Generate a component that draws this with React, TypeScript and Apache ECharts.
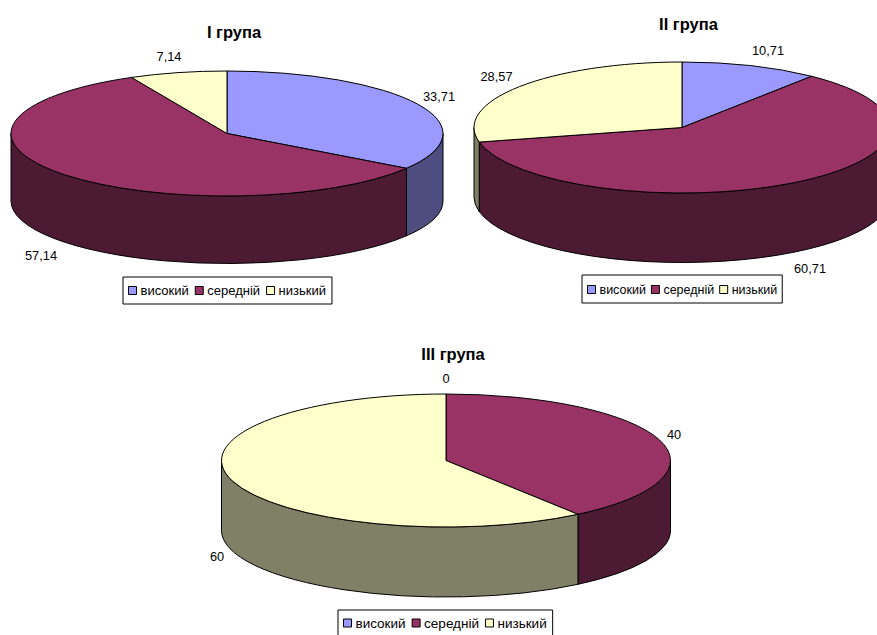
import React, { useEffect, useRef } from "react";
import * as echarts from "echarts";

const categories = ["високий", "середній", "низький"];
const groupTitles = ["I група", "II група", "III група"];
const group1Values = [33.71, 57.14, 7.14];
const group2Values = [10.71, 60.71, 28.57];
const group3Values = [0, 40, 60];
const groupValues = [group1Values, group2Values, group3Values];

const topColors = ["#9999FF", "#993366", "#FFFFCC"];
const wallColors = ["#4D4D80", "#4D1A33", "#808066"];

const FONT = "'Liberation Sans', Arial, sans-serif";

const pies = [
  { cx: 227, cy: 133.5, rx: 216, ry: 62.5, depth: 67.5 },
  { cx: 682, cy: 127.5, rx: 208, ry: 65.5, depth: 69.5 },
  { cx: 446, cy: 460.5, rx: 224.5, ry: 66.5, depth: 70 },
];
const labelAnchors = [
  [[439, 96], [41, 255], [169, 56]],
  [[768, 50], [810, 268], [496.5, 76]],
  [[446, 378], [674, 434], [217, 556]],
];
const titleAnchors = [[234, 32], [688.5, 24], [453, 354]];
const legendBoxes = [
  { left: 123, top: 277, fontSize: 13, gap: 6, padding: [7, 6, 7, 5] },
  { left: 582, top: 275, fontSize: 12.5, gap: 5, padding: [8, 5, 7, 5] },
  { left: 338, top: 610, fontSize: 13.5, gap: 6, padding: [6, 6, 6, 5] },
];

function buildOption() {
  const series: any[] = [];
  groupValues.forEach((values, g) => {
    const { cx, cy, rx, ry, depth } = pies[g];
    const total = values.reduce((a, b) => a + b, 0);
    const pt = (deg: number, dy = 0) => {
      const r = (deg * Math.PI) / 180;
      return [cx + rx * Math.sin(r), cy - ry * Math.cos(r) + dy];
    };
    let cumulative = 0;
    values.forEach((_, i) => {
      const startShare = cumulative / total;
      cumulative += values[i];
      const endShare = cumulative / total;
      series.push({
        type: "custom",
        name: categories[i],
        coordinateSystem: "none",
        itemStyle: { color: topColors[i] },
        silent: true,
        z: 2,
        data: [[values[i]]],
        renderItem: (_p: any, api: any) => {
          const v = api.value(0);
          const a = startShare * 360;
          const b = endShare * 360;
          const children: any[] = [];
          const line = { stroke: "#000", lineWidth: 1 };
          if (v > 0) {
            const wa = Math.max(a, 90);
            const wb = Math.min(b, 270);
            if (wb > wa) {
              const p1 = pt(wa);
              const p2 = pt(wb);
              const p3 = pt(wb, depth);
              const p4 = pt(wa, depth);
              children.push({
                type: "path",
                shape: {
                  pathData: `M${p1[0]} ${p1[1]}A${rx} ${ry} 0 0 1 ${p2[0]} ${p2[1]}L${p3[0]} ${p3[1]}A${rx} ${ry} 0 0 0 ${p4[0]} ${p4[1]}Z`,
                },
                style: { fill: wallColors[i], ...line },
              });
            }
            const s = pt(a);
            const e = pt(b);
            children.push({
              type: "path",
              shape: {
                pathData: `M${cx} ${cy}L${s[0]} ${s[1]}A${rx} ${ry} 0 ${b - a > 180 ? 1 : 0} 1 ${e[0]} ${e[1]}Z`,
              },
              style: { fill: topColors[i], ...line },
            });
          }
          const [lx, ly] = labelAnchors[g][i];
          children.push({
            type: "text",
            style: {
              text: String(v).replace(".", ","),
              x: lx,
              y: ly,
              align: "center",
              verticalAlign: "middle",
              fontSize: 12.8,
              fontFamily: FONT,
              fill: "#000",
            },
          });
          return { type: "group", children };
        },
      });
    });
  });

  return {
    animation: false,
    backgroundColor: "#fff",
    title: groupTitles.map((t, g) => ({
      text: t,
      left: titleAnchors[g][0],
      top: titleAnchors[g][1] - 9,
      textAlign: "center",
      padding: 0,
      textStyle: { fontSize: 16.5, fontWeight: "bold", fontFamily: FONT, color: "#000" },
    })),
    legend: legendBoxes.map((box) => ({
      left: box.left,
      top: box.top,
      orient: "horizontal",
      data: categories,
      icon: "rect",
      itemWidth: 8,
      itemHeight: 8,
      itemGap: box.gap,
      padding: box.padding,
      borderColor: "#000",
      borderWidth: 1,
      backgroundColor: "#fff",
      selectedMode: false,
      itemStyle: { borderColor: "#000", borderWidth: 1 },
      textStyle: {
        fontSize: box.fontSize,
        fontFamily: FONT,
        color: "#000",
        padding: [0, 0, 0, -1],
      },
    })),
    series,
  };
}

export default function App() {
  const ref = useRef<HTMLDivElement>(null);
  useEffect(() => {
    const chart = echarts.init(ref.current!, null, { renderer: "svg" });
    chart.setOption(buildOption());
    return () => chart.dispose();
  }, []);
  return (
    <div
      ref={ref}
      style={{ position: "absolute", left: 0, top: 0, width: 877, height: 635 }}
    />
  );
}
